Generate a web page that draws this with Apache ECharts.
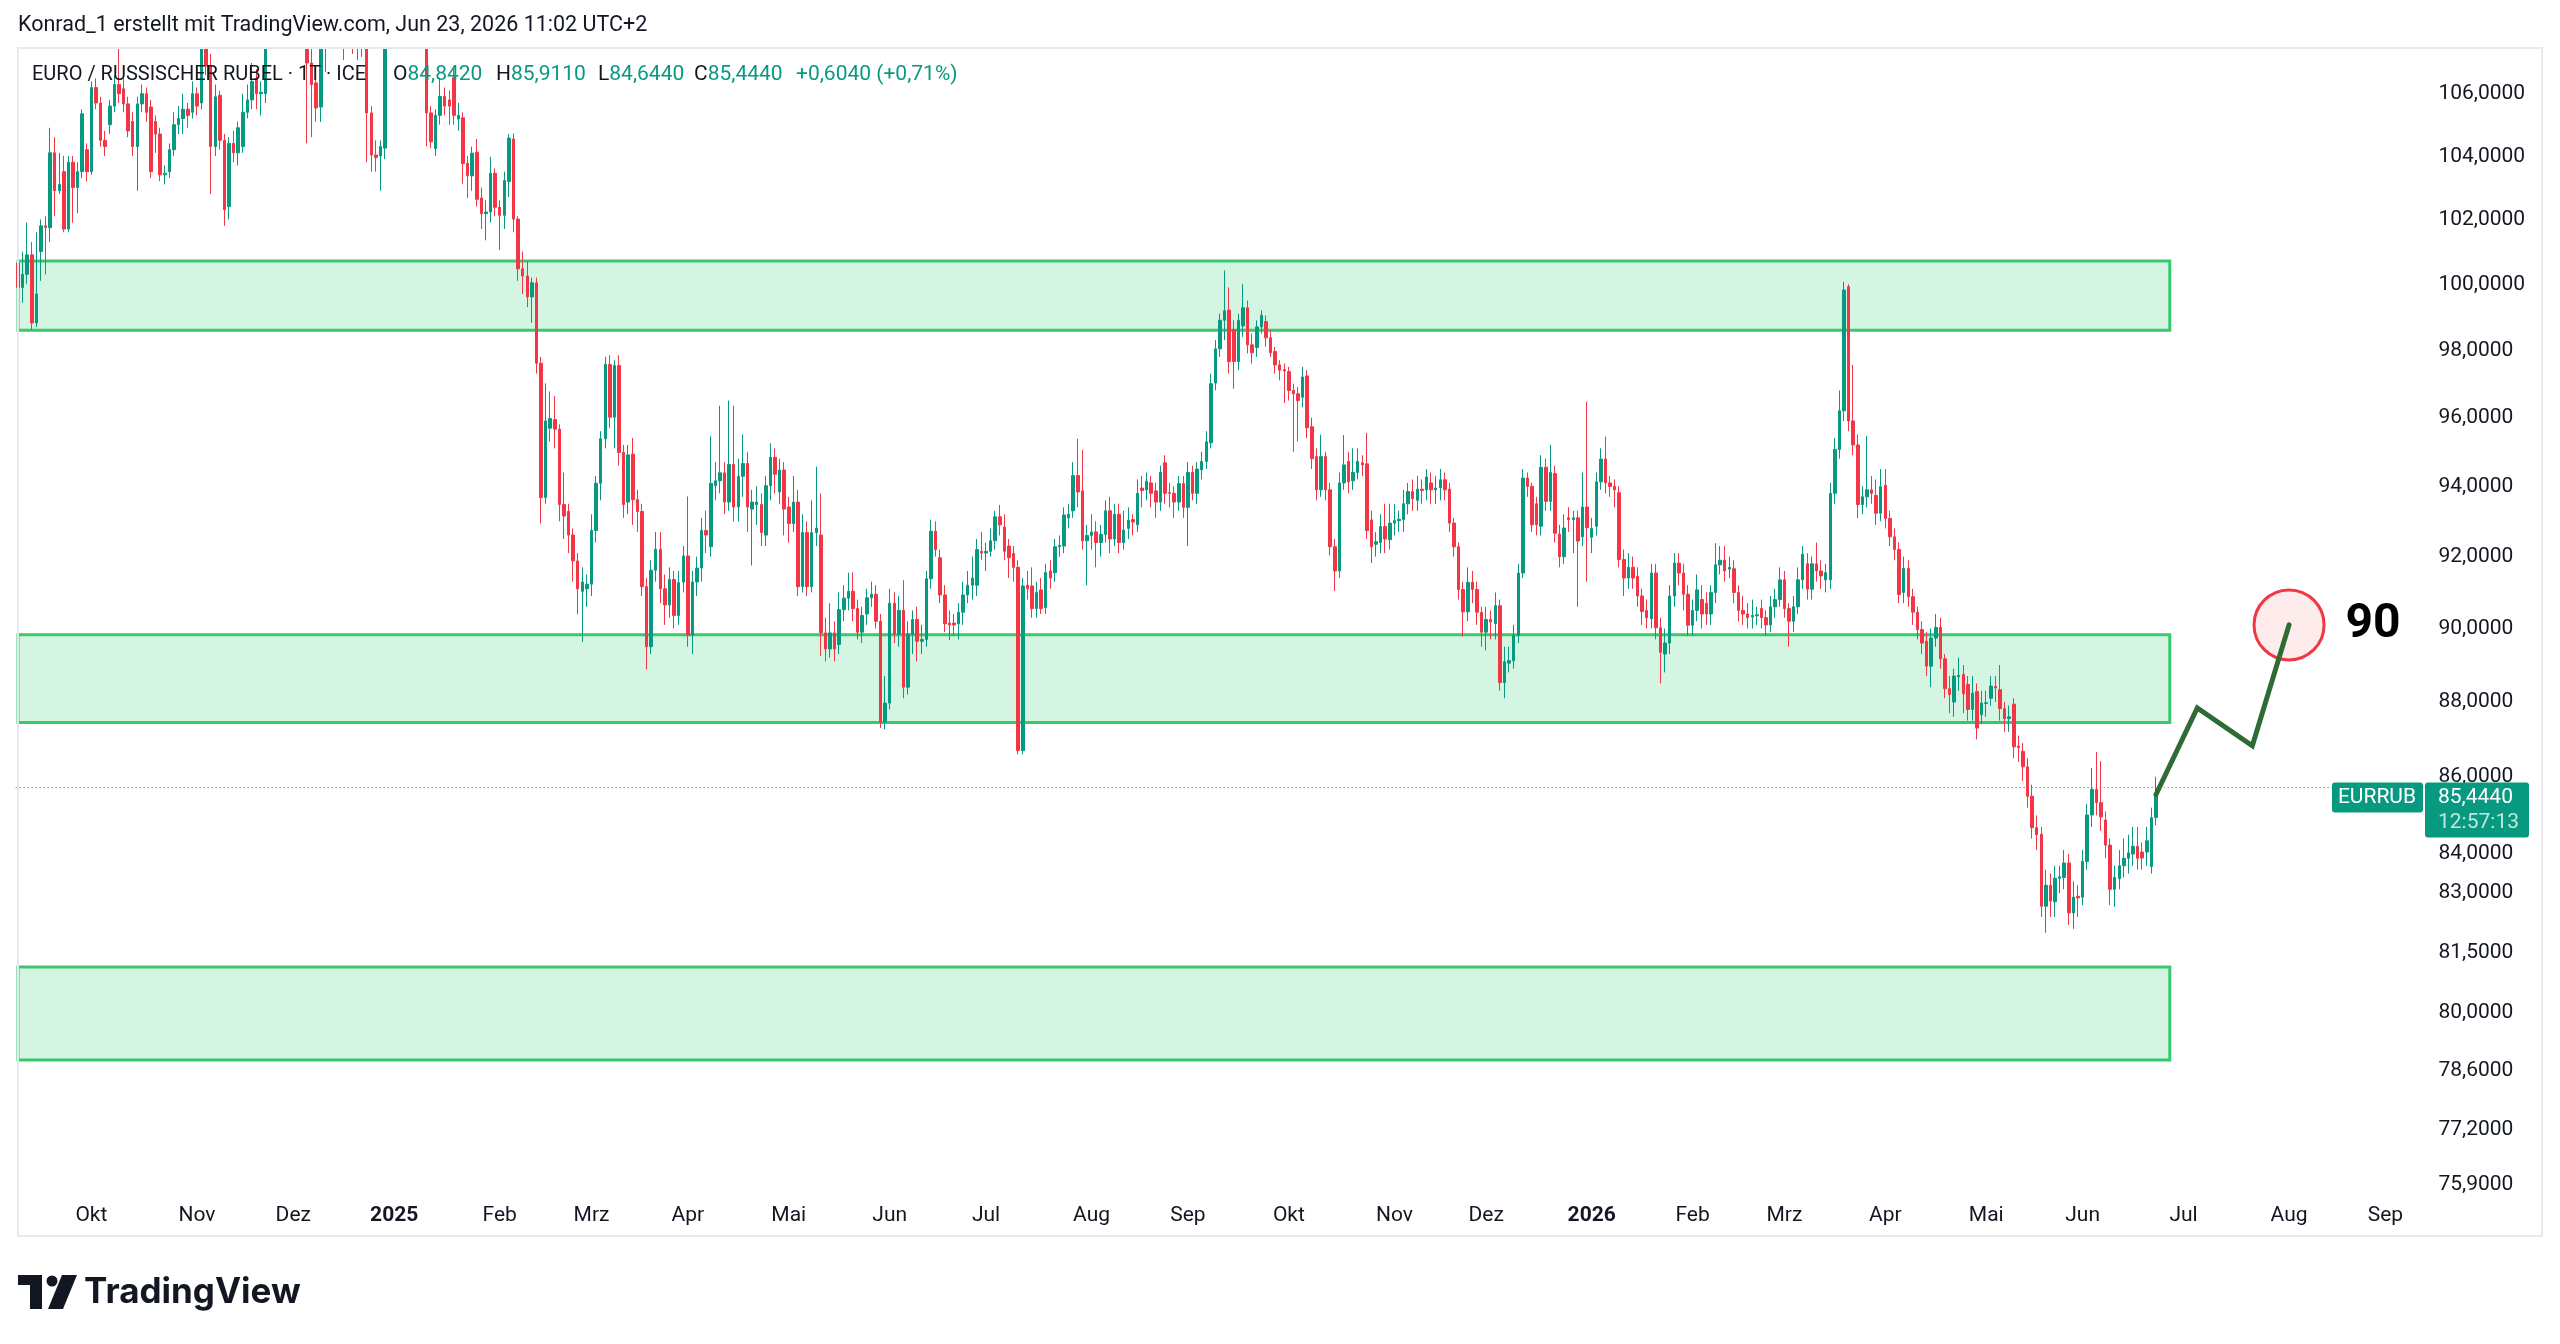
<!DOCTYPE html>
<html>
<head>
<meta charset="utf-8">
<title>EURRUB</title>
<script src="https://cdn.jsdelivr.net/npm/echarts@6/dist/echarts.min.js"></script>
<style>
  html, body { margin: 0; padding: 0; background: #ffffff; }
  #chart { width: 2560px; height: 1344px; }
</style>
</head>
<body>
<div id="chart"></div>
<script>
// time scale: trading days from the first visible bar, incl. empty future space
var startDate = '2024-09-09';
var barCount = 525;
var monthNames = ['', 'Feb', 'Mrz', 'Apr', 'Mai', 'Jun', 'Jul', 'Aug', 'Sep', 'Okt', 'Nov', 'Dez'];

// price scale (log) and its labels
var priceRange = [75.65, 107.36];
var priceTicks = [106, 104, 102, 100, 98, 96, 94, 92, 90, 88, 86, 84, 83, 81.5, 80, 78.6, 77.2, 75.9];

// daily candles: [open, close, low, high]
var ohlc = [
  // Sep 2024
  [100.55,99.80,99.63,100.80],[99.80,100.20,99.33,100.90],[100.20,100.80,99.90,101.80],[100.80,98.72,98.50,101.20],[98.72,99.60,98.60,101.50],
  [100.90,101.70,100.00,101.90],[101.70,101.65,100.20,102.00],[101.64,104.00,101.20,104.80],[104.00,102.80,102.00,104.50],[102.80,103.00,102.70,104.00],
  [103.40,101.60,101.50,103.90],[101.60,103.70,101.50,103.90],[103.70,102.90,101.80,103.90],[102.90,103.40,102.10,103.70],[103.40,105.25,103.20,105.40],
  [104.10,103.40,103.10,104.30],
  // Oct
  [103.40,106.10,103.30,106.30],[106.10,105.60,105.40,106.40],[105.60,104.40,104.20,105.80],[104.40,104.20,103.90,104.70],[104.90,105.50,104.60,105.70],
  [105.50,106.20,105.30,106.50],[106.20,105.90,105.60,107.40],[106.06,105.57,105.30,106.40],[105.57,104.70,104.50,105.80],[105.00,104.20,103.90,105.30],
  [104.20,105.57,102.80,105.80],[105.57,105.90,105.30,106.20],[105.90,105.30,105.00,106.10],[105.47,103.40,103.20,105.70],[105.00,104.60,104.00,105.20],
  [104.60,103.30,103.10,104.80],[103.30,103.35,103.00,103.60],[103.40,104.10,103.20,104.30],[104.10,104.90,103.90,105.30],[104.90,105.10,104.60,105.50],
  [105.10,105.40,104.60,105.90],[105.40,105.20,104.80,105.60],[105.30,105.90,105.10,106.30],
  // Nov
  [105.90,105.50,105.20,106.10],[105.60,107.90,105.40,108.30],[107.90,106.80,106.50,108.40],[106.80,104.20,102.70,107.20],[104.20,105.80,103.90,106.20],
  [105.85,104.40,104.10,106.00],[104.40,102.20,101.70,104.60],[102.30,104.30,101.90,104.50],[104.30,104.00,103.70,104.70],[104.00,104.80,103.60,105.00],
  [104.20,105.30,104.00,105.90],[105.30,105.70,105.10,106.20],[105.70,106.30,105.40,106.90],[106.40,105.90,105.40,106.70],[105.90,105.95,105.20,106.30],
  [105.90,107.80,105.60,108.20],[107.80,108.60,107.50,109.20],[108.60,110.40,108.30,111.00],[110.40,112.80,110.00,113.60],[112.80,114.50,112.20,116.00],
  [114.50,112.90,111.80,115.20],
  // Dec
  [112.90,111.40,110.60,113.50],[111.40,110.20,109.40,112.00],[110.20,109.00,108.20,110.80],[109.00,106.90,104.30,109.50],[106.90,106.20,104.50,107.60],
  [106.25,105.44,105.00,106.60],[105.47,107.90,104.99,108.40],[107.90,108.60,106.60,109.30],[108.60,109.20,107.60,109.90],[109.20,108.40,107.80,109.60],
  [108.40,108.90,107.90,109.40],[108.90,108.10,107.00,109.30],[108.10,108.50,107.70,109.00],[108.50,107.60,107.20,108.80],[107.60,107.90,107.00,108.30],
  [107.90,107.50,107.10,108.20],[108.30,105.28,103.70,108.60],[105.28,103.93,103.40,105.50],[103.93,103.85,103.40,104.40],[103.90,104.20,102.80,104.40],
  [104.15,107.90,103.80,108.40],[107.90,109.30,107.60,110.00],
  // Jan 2025
  [109.30,110.60,108.80,111.20],[110.60,109.80,109.10,111.10],[109.80,110.90,109.40,111.60],[110.90,111.50,110.20,112.30],[111.50,110.30,109.60,111.90],
  [110.30,109.10,108.30,110.70],[109.10,108.20,107.60,109.60],[108.20,105.28,104.20,108.50],[105.28,104.35,104.15,105.50],
  [104.14,105.20,103.90,105.40],[105.20,105.81,104.90,106.42],[105.81,105.50,105.20,106.10],[105.70,105.50,104.90,106.00],[106.42,105.20,104.90,106.70],
  [105.08,105.20,104.70,105.60],[105.12,103.66,103.02,105.30],[103.66,103.27,102.57,103.90],[103.27,103.99,102.80,104.20],[104.02,102.53,102.30,104.44],
  [102.57,102.08,101.60,102.90],[102.08,102.13,101.25,102.50],[102.13,103.35,101.80,103.87],[103.35,102.28,102.00,103.50],
  // Feb
  [102.28,102.03,100.95,102.50],[102.03,103.12,101.60,103.40],[103.09,104.47,102.60,104.60],[104.44,101.91,101.50,104.62],[101.91,100.37,100.00,102.00],
  [100.37,100.15,99.60,100.90],[100.15,99.51,99.20,100.60],[99.51,99.94,98.72,100.10],[99.94,97.51,97.20,100.10],[97.51,93.58,92.84,97.70],
  [93.58,95.80,93.40,96.91],[95.59,95.87,95.20,96.67],[95.84,95.56,95.00,96.53],[95.56,93.38,92.90,95.70],[93.38,93.05,92.40,94.30],
  [93.18,92.51,92.00,93.40],[92.51,91.78,91.20,92.70],[91.78,91.00,90.29,92.00],[90.93,91.19,89.53,91.60],[91.00,91.13,90.50,91.40],
  // Mar
  [91.13,92.64,90.80,93.10],[92.64,93.99,92.30,94.20],[93.99,95.28,93.50,95.50],[95.28,97.47,95.00,97.70],[97.47,95.91,95.60,97.75],
  [95.91,97.44,95.00,97.60],[97.44,94.88,94.50,97.75],[94.88,93.38,93.00,95.10],[93.45,94.81,93.10,95.10],[94.83,93.52,92.80,95.30],
  [93.52,93.18,92.60,93.80],[93.18,91.06,90.80,93.40],[91.06,89.40,88.78,91.30],[89.40,91.52,89.20,91.80],[91.52,92.11,91.20,92.60],
  [92.11,91.00,90.60,92.60],[91.00,90.55,90.00,91.40],[90.55,91.26,90.20,91.60],[91.26,90.26,89.90,91.50],[90.26,91.17,90.00,91.50],
  [91.19,91.92,90.90,92.20],
  // Apr
  [91.92,89.72,89.40,93.61],[89.72,91.19,89.20,91.50],[91.19,91.58,90.80,91.90],[91.58,92.64,91.20,93.00],[92.64,92.51,92.00,93.20],
  [92.18,93.99,91.90,95.35],[93.92,94.06,93.50,94.60],[94.06,94.29,93.70,96.25],[94.29,93.45,93.10,94.60],[93.45,94.53,93.20,96.40],
  [94.53,93.31,92.90,96.25],[93.31,94.19,92.90,94.70],[94.19,94.56,93.60,95.40],[94.56,93.31,92.60,94.90],[93.25,93.45,91.65,93.80],
  [93.38,93.45,92.80,93.90],[93.38,92.58,92.20,93.70],[92.51,93.92,92.20,94.20],[93.92,94.74,93.50,95.15],[94.74,94.25,93.70,95.00],
  [93.74,94.37,93.40,94.70],[94.37,93.25,92.50,94.60],
  // May
  [93.31,92.84,92.30,93.60],[92.84,93.45,92.60,94.20],[93.45,91.06,90.80,93.80],[91.06,92.58,90.90,93.10],[92.58,91.06,90.80,92.90],
  [91.06,92.58,90.90,93.50],[92.58,92.71,92.20,94.47],[92.51,89.78,89.15,93.70],[89.78,89.34,89.00,90.20],[89.34,89.78,89.10,90.60],
  [89.78,89.34,89.00,90.10],[89.46,90.42,89.20,90.90],[90.42,90.74,90.10,91.10],[90.74,90.93,90.40,91.45],[90.93,90.45,90.10,91.46],
  [90.45,89.80,89.60,90.70],[89.80,90.26,89.50,90.50],[90.30,90.75,90.00,91.00],[90.75,90.85,90.50,91.20],[90.85,90.10,89.90,91.10],
  [90.10,87.36,87.20,90.30],[87.36,87.87,87.17,88.60],
  // Jun
  [87.87,90.60,87.70,91.00],[90.60,89.75,89.50,90.90],[89.75,90.40,89.40,90.80],[90.40,88.30,88.00,91.24],[88.30,89.75,88.10,90.10],
  [89.75,90.15,89.20,90.40],[90.15,89.55,89.00,90.50],[89.55,89.60,89.20,90.00],[89.60,91.28,89.40,91.50],[91.28,92.62,91.00,92.95],
  [92.62,92.10,91.90,92.90],[91.87,90.83,90.60,92.10],[90.83,90.03,89.80,91.10],[90.05,90.00,89.58,90.40],[90.05,90.00,89.70,90.30],
  [90.03,90.35,89.60,90.60],[90.35,90.83,90.00,91.20],[90.83,91.10,90.60,91.50],[91.10,91.30,90.70,91.90],[91.10,92.10,90.80,92.40],
  [92.05,92.00,91.80,92.60],
  // Jul
  [92.00,92.05,91.50,92.30],[92.05,92.35,91.90,92.70],[92.35,93.03,92.10,93.20],[93.03,92.80,92.50,93.37],[92.74,92.05,91.80,93.10],
  [92.20,91.87,91.30,92.40],[91.99,91.60,91.20,92.20],[91.60,86.60,86.50,91.80],[86.60,91.08,86.50,91.30],[91.10,91.00,90.70,91.50],
  [91.08,90.45,90.20,91.60],[90.45,90.90,90.20,91.20],[90.97,90.45,90.30,91.30],[90.48,91.45,90.30,91.70],[91.50,91.30,91.00,91.80],
  [91.45,92.18,91.20,92.40],[92.18,92.22,91.90,92.50],[92.20,93.08,92.00,93.30],[93.00,93.10,92.70,93.40],[93.20,94.21,93.00,94.60],
  [94.21,93.74,93.30,95.28],[93.77,92.35,92.10,94.95],[92.35,92.50,91.10,92.80],
  // Aug
  [92.50,92.60,92.10,93.10],[92.60,92.30,91.60,92.90],[92.30,92.53,91.90,92.80],[92.53,93.20,92.30,93.50],[93.20,92.40,92.00,93.60],
  [92.40,93.10,92.20,93.40],[93.10,92.30,92.00,93.40],[92.30,92.65,92.10,93.20],[92.70,92.93,92.40,93.30],[92.95,92.88,92.50,93.10],
  [92.80,93.70,92.60,94.10],[93.85,93.78,93.30,94.20],[93.80,94.05,93.50,94.30],[94.00,93.70,93.30,94.20],[93.77,93.45,93.00,94.00],
  [93.45,94.30,93.20,94.50],[94.58,93.70,93.40,94.80],[93.72,93.70,93.30,94.00],[93.70,93.45,93.00,93.90],[93.45,93.98,93.20,94.20],
  [93.98,93.30,93.00,94.20],
  // Sep
  [93.30,94.30,92.20,94.60],[94.30,93.70,93.50,94.50],[93.70,94.40,93.40,94.60],[94.38,94.62,94.10,94.90],[94.62,95.19,94.40,95.50],
  [95.16,96.90,95.00,97.20],[96.92,97.94,96.70,98.20],[97.94,98.80,97.70,99.00],[98.80,99.09,98.20,100.32],[99.11,97.56,97.20,99.80],
  [98.52,97.56,96.75,98.80],[97.56,98.80,97.30,99.00],[98.63,99.18,98.30,99.90],[99.18,98.06,97.80,99.40],[98.06,97.82,97.50,98.40],
  [97.98,98.60,97.70,98.80],[98.60,98.95,98.40,99.10],[98.76,98.27,98.00,98.95],[98.27,97.82,97.70,98.50],[97.86,97.46,97.20,98.00],
  [97.46,97.30,97.00,97.60],[97.32,97.28,96.33,97.50],
  // Oct
  [97.26,96.70,96.40,97.40],[96.70,96.60,94.90,96.90],[96.60,96.40,95.20,96.80],[96.50,97.10,96.20,97.40],[97.13,95.60,95.30,97.30],
  [95.63,94.70,94.40,95.90],[94.76,93.80,93.50,95.00],[93.80,94.76,93.60,95.40],[94.76,93.80,93.50,94.90],[93.80,92.18,91.94,94.00],
  [92.18,91.50,90.94,92.40],[91.50,94.00,91.30,94.30],[94.00,94.52,93.80,95.39],[94.62,94.03,93.70,94.90],[94.06,94.30,93.80,95.00],
  [94.30,94.62,94.10,95.00],[94.58,94.52,94.20,94.80],[94.55,92.64,92.40,95.45],[92.94,92.18,91.72,93.20],[92.25,92.32,91.90,92.60],
  [92.30,92.75,92.00,93.10],[92.75,92.40,92.00,93.40],[92.38,92.85,92.10,93.40],
  // Nov
  [92.85,92.92,92.50,93.40],[92.92,92.96,92.60,93.20],[92.95,93.40,92.60,93.80],[93.40,93.75,93.10,94.00],[93.75,93.55,93.20,94.10],
  [93.50,93.82,93.20,94.20],[93.82,93.78,93.40,94.10],[93.80,94.17,93.50,94.40],[94.00,93.80,93.40,94.30],[93.80,93.85,93.40,94.20],
  [93.86,94.09,93.50,94.40],[94.09,93.80,93.50,94.30],[93.82,92.85,92.60,94.00],[92.85,92.18,91.90,93.00],[92.18,90.98,90.70,92.30],
  [90.98,90.36,89.68,91.20],[90.36,91.18,90.10,91.60],[91.18,90.98,90.60,91.50],[90.98,90.35,90.00,91.20],[90.34,89.80,89.40,90.50],
  // Dec
  [89.80,90.15,89.30,90.50],[90.15,90.08,89.60,90.40],[90.03,90.53,89.60,90.90],[90.53,88.42,88.20,90.70],[88.42,88.99,88.00,89.40],
  [88.95,89.02,88.70,89.40],[89.02,89.71,88.80,90.00],[89.71,91.44,89.50,91.70],[91.44,94.14,91.30,94.40],[94.14,93.90,93.60,94.30],
  [93.90,92.80,92.60,94.00],[93.40,92.80,92.50,93.60],[92.76,94.45,92.50,94.80],[94.45,93.47,93.20,94.70],[93.47,94.30,93.20,95.10],
  [94.27,92.56,92.30,94.50],[92.54,91.90,91.60,92.80],[91.90,92.71,91.70,93.10],[93.00,92.95,92.60,93.30],[92.95,93.00,92.00,93.20],
  [93.00,92.34,90.50,93.20],[92.46,93.31,92.20,94.30],[93.31,92.72,91.20,96.37],
  // Jan 2026
  [92.45,92.70,92.00,93.00],[92.76,94.03,92.50,94.30],[94.03,94.69,93.80,95.00],[94.69,94.00,93.70,95.34],[94.00,93.90,93.60,94.20],
  [93.90,93.80,93.30,94.10],[93.72,91.82,91.60,93.90],[91.82,91.30,90.80,92.10],[91.30,91.60,91.00,92.00],[91.60,91.30,91.00,91.90],
  [91.35,90.80,90.50,91.60],[90.80,90.37,90.00,91.00],[90.40,90.20,89.90,90.70],[90.17,91.44,89.90,91.70],[91.44,89.92,89.60,91.70],
  [89.92,89.25,88.40,90.20],[89.20,89.50,88.70,89.90],[89.50,90.80,89.20,91.10],[90.80,91.72,90.50,92.00],[91.72,91.44,91.10,92.00],
  [91.44,90.85,90.40,91.70],[90.85,89.99,89.70,91.10],
  // Feb
  [89.99,90.40,89.70,90.70],[90.40,90.97,90.10,91.40],[90.70,90.30,89.90,91.10],[90.60,90.30,90.00,90.90],[90.30,90.90,90.00,91.10],
  [90.90,91.67,90.60,92.28],[91.67,91.80,91.40,92.20],[91.80,91.50,91.20,92.20],[91.55,91.60,91.30,91.90],[91.56,90.90,90.60,91.80],
  [90.90,90.40,90.10,91.10],[90.40,90.30,90.00,90.80],[90.30,90.20,89.90,90.60],[90.22,90.26,89.90,90.70],[90.25,90.28,90.00,90.50],
  [90.45,90.20,89.90,90.70],[90.20,90.00,89.70,90.40],[90.00,90.50,89.80,90.80],[90.50,90.70,90.20,91.00],[90.70,91.25,90.50,91.60],
  // Mar
  [91.25,90.45,90.20,91.50],[90.45,90.10,89.40,90.60],[90.10,90.50,89.80,90.80],[90.50,91.25,90.30,91.60],[91.25,91.97,91.00,92.20],
  [91.70,90.99,90.70,92.00],[90.99,91.70,90.70,91.90],[91.70,91.50,91.20,92.30],[91.50,91.36,91.00,91.80],[91.25,91.45,90.90,91.70],
  [91.25,93.70,91.00,94.00],[93.70,94.97,93.40,95.30],[94.97,96.10,94.70,96.70],[96.10,99.72,95.80,99.97],[99.82,95.80,95.50,99.90],
  [95.80,95.10,94.80,97.46],[95.10,93.38,92.99,95.40],[93.38,93.60,93.10,93.90],[93.60,93.80,93.30,95.36],[93.80,93.70,93.40,94.20],
  [93.64,93.13,92.80,94.10],[93.13,93.89,92.90,94.40],
  // Apr
  [93.93,92.98,92.70,94.40],[92.98,92.46,92.20,93.20],[92.46,92.10,91.80,92.70],[92.10,90.84,90.60,92.30],[90.90,91.57,90.60,91.90],
  [91.57,90.78,90.50,91.80],[90.78,90.35,90.00,91.00],[90.35,89.87,89.60,90.50],[89.87,89.50,89.20,90.10],[89.55,88.87,88.60,89.80],
  [88.87,89.64,88.30,89.90],[89.64,89.93,89.40,90.30],[89.93,89.07,88.80,90.20],[89.07,88.26,88.00,89.20],[88.26,88.10,87.60,88.60],
  [87.90,88.60,87.50,88.80],[88.58,88.62,88.20,89.10],[88.64,88.12,87.60,88.90],[88.37,87.70,87.40,88.60],[87.70,88.14,87.40,88.60],
  [88.18,87.20,86.90,88.40],[87.56,87.87,87.30,88.20],
  // May
  [87.86,87.88,87.50,88.20],[88.00,88.33,87.80,88.60],[88.32,88.28,87.90,88.60],[88.23,87.72,87.40,88.90],[87.72,87.45,87.10,87.90],
  [87.45,87.50,87.10,87.80],[87.84,86.70,86.40,88.00],[86.72,86.68,86.30,87.00],[86.58,86.17,85.80,86.80],[86.17,85.40,85.10,86.40],
  [85.40,84.58,84.30,85.70],[84.58,84.40,84.00,84.90],[84.41,82.57,82.30,84.60],[82.57,83.10,81.90,83.50],[83.10,82.70,82.30,83.40],
  [82.68,83.28,82.30,83.60],[83.28,83.32,82.90,83.60],[83.30,83.67,83.00,84.00],[83.67,82.40,82.10,83.90],[82.40,82.80,82.00,83.20],
  [82.82,82.78,82.30,83.10],
  // Jun
  [82.80,83.71,82.60,84.00],[83.71,84.91,83.50,85.20],[84.91,85.58,84.60,86.14],[85.58,85.23,84.90,86.56],[85.23,84.86,84.50,86.32],
  [84.78,84.13,83.80,85.00],[84.13,83.00,82.60,84.30],[83.00,83.30,82.55,83.60],[83.27,83.60,83.00,84.00],[83.60,83.79,83.30,84.30],
  [83.79,83.93,83.40,84.40],[83.90,84.10,83.60,84.60],[84.10,83.79,83.50,84.60],[83.95,83.80,83.50,84.20],[83.95,84.24,83.60,84.60],
  [83.58,84.84,83.40,85.10],[84.842,85.444,84.644,85.911]
];

// support / resistance boxes [top, bottom], drawn until bar zoneEnd
var zones = [[100.61, 98.50], [89.73, 87.35], [81.05, 78.77]];
var zoneEnd = 469;

// drawn projection path [bar index, price] and its target
var projection = [[466, 85.444], [475, 87.74], [487, 86.73], [495, 90.0]];
var target = [495, 90];
var lastPrice = 85.444;

var UP = '#089981', DOWN = '#f23645', INK = '#131722';
var FONT = 'Roboto';
var FS = 21;

// trading-day categories
var dates = [];
var d = new Date(startDate + 'T00:00:00Z');
while (dates.length < barCount) {
  var wd = d.getUTCDay();
  if (wd !== 0 && wd !== 6) dates.push(d.toISOString().slice(0, 10));
  d.setUTCDate(d.getUTCDate() + 1);
}
var monthStart = {};
for (var i = 1; i < dates.length; i++) {
  if (dates[i].slice(5, 7) !== dates[i - 1].slice(5, 7)) monthStart[i] = true;
}

function fmtPrice(v) { return v.toFixed(4).replace('.', ','); }

var chart = echarts.init(document.getElementById('chart'), null, { renderer: 'canvas' });

chart.setOption({
  animation: false,
  backgroundColor: '#ffffff',
  grid: { left: 15.7, right: 135.6, top: 49, bottom: 152, containLabel: false },
  xAxis: {
    type: 'category',
    data: dates,
    boundaryGap: true,
    axisLine: { show: false },
    axisTick: { show: false },
    splitLine: { show: false },
    axisLabel: {
      interval: function (index) { return !!monthStart[index]; },
      formatter: function (value) {
        var m = +value.slice(5, 7);
        return m === 1 ? '{y|' + value.slice(0, 4) + '}' : monthNames[m - 1];
      },
      color: INK, fontSize: FS, fontFamily: FONT, margin: 13,
      rich: { y: { fontWeight: 'bold', fontSize: FS, fontFamily: FONT, color: INK } }
    }
  },
  yAxis: {
    type: 'value',
    position: 'right',
    min: Math.log(priceRange[0]),
    max: Math.log(priceRange[1]),
    axisLine: { show: false },
    axisTick: { show: false },
    splitLine: { show: false },
    axisLabel: {
      customValues: priceTicks.map(Math.log),
      formatter: function (v) { return '{p|' + fmtPrice(Math.exp(v)) + '}'; },
      color: INK, fontSize: FS, fontFamily: FONT, margin: 14,
      rich: { p: { color: INK, fontSize: FS, fontFamily: FONT, padding: [7, 0, 0, 0] } }
    }
  },
  series: [
    {
      type: 'candlestick',
      data: ohlc.map(function (r) { return r.map(Math.log); }),
      barWidth: 3,
      clip: true,
      itemStyle: { color: UP, color0: DOWN, borderColor: UP, borderColor0: DOWN, borderWidth: 1 },
      markArea: {
        silent: true,
        itemStyle: { color: '#d4f5e2', borderColor: '#37c96c', borderWidth: 3 },
        data: zones.map(function (z) {
          return [{ xAxis: dates[0], yAxis: Math.log(z[0]) }, { xAxis: dates[zoneEnd], yAxis: Math.log(z[1]) }];
        })
      },
      markLine: {
        silent: true,
        symbol: 'none',
        label: { show: false },
        lineStyle: { color: UP, type: [1, 3], width: 1 },
        data: [{ yAxis: Math.log(lastPrice) }]
      }
    },
    {
      type: 'scatter',
      data: [[dates[target[0]], Math.log(target[1])]],
      symbolSize: 70,
      z: 3,
      silent: true,
      itemStyle: { color: 'rgba(242,54,69,0.1)', borderColor: DOWN, borderWidth: 3, opacity: 1 },
      label: {
        show: true, position: 'right', distance: 20,
        formatter: String(target[1]),
        fontSize: 48, fontWeight: 'bold', fontFamily: FONT, color: '#000000'
      }
    },
    {
      type: 'line',
      data: projection.map(function (p) { return [dates[p[0]], Math.log(p[1])]; }),
      symbol: 'none',
      z: 4,
      silent: true,
      lineStyle: { color: '#2e6b35', width: 5, cap: 'round', join: 'miter' }
    }
  ]
});

// overlays: header, legend, price tags, logo
var py = chart.convertToPixel({ yAxisIndex: 0 }, Math.log(lastPrice));
function txt(id, x, y, text, extra) {
  var st = { text: text, fontSize: FS, fontFamily: FONT, fill: INK, verticalAlign: 'middle' };
  for (var k in extra) st[k] = extra[k];
  return { id: id, type: 'text', x: x, y: y, z: 70, silent: true, style: st };
}
var legendRich = { k: { fill: INK, fontSize: FS, fontFamily: FONT }, v: { fill: UP, fontSize: FS, fontFamily: FONT } };

chart.setOption({
  graphic: [
    // keeps tall candles out of the header strip
    { id: 'mask', type: 'rect', z: 40, silent: true, shape: { x: 0, y: 0, width: 2560, height: 48 }, style: { fill: '#ffffff' } },
    { id: 'frame', type: 'rect', z: 41, silent: true, shape: { x: 18, y: 48, width: 2524, height: 1188 },
      style: { fill: 'none', stroke: '#e6e9ef', lineWidth: 2 } },
    txt('header', 18, 26, 'Konrad_1 erstellt mit TradingView.com, Jun 23, 2026 11:02 UTC+2', { fontSize: 21.5 }),
    txt('title', 32, 75, 'EURO / RUSSISCHER RUBEL \u00b7 1T \u00b7 ICE', { fontSize: 20 }),
    txt('o', 393, 75, '{k|O}{v|84,8420}', { rich: legendRich }),
    txt('h', 496, 75, '{k|H}{v|85,9110}', { rich: legendRich }),
    txt('l', 598, 75, '{k|L}{v|84,6440}', { rich: legendRich }),
    txt('c', 694, 75, '{k|C}{v|85,4440}', { rich: legendRich }),
    txt('chg', 796, 75, '+0,6040 (+0,71%)', { fill: UP }),
    { id: 'symBox', type: 'rect', z: 60, silent: true, shape: { x: 2332, y: py - 12, width: 91, height: 30, r: 3 }, style: { fill: UP } },
    txt('symTxt', 2377, py + 3, 'EURRUB', { fill: '#ffffff', align: 'center' }),
    { id: 'pxBox', type: 'rect', z: 60, silent: true, shape: { x: 2425, y: py - 12, width: 104, height: 55, r: 3 }, style: { fill: UP } },
    txt('pxTxt', 2438, py + 3, fmtPrice(lastPrice), { fill: '#ffffff' }),
    txt('pxTime', 2438, py + 28, '12:57:13', { fill: 'rgba(255,255,255,0.75)' }),
    { id: 'logoBar', type: 'rect', silent: true, shape: { x: 18, y: 1275, width: 24, height: 10 }, style: { fill: INK } },
    { id: 'logoStem', type: 'rect', silent: true, shape: { x: 30, y: 1275, width: 12, height: 34 }, style: { fill: INK } },
    { id: 'logoDot', type: 'circle', silent: true, shape: { cx: 52, cy: 1281, r: 5.5 }, style: { fill: INK } },
    { id: 'logoSlash', type: 'polygon', silent: true, shape: { points: [[62, 1275], [77, 1275], [63, 1309], [48, 1309]] }, style: { fill: INK } },
    txt('logoTxt', 84, 1292, 'TradingView', { fontSize: 35, fontWeight: 'bold', fontFamily: 'Inter' })
  ]
});
</script>
</body>
</html>
